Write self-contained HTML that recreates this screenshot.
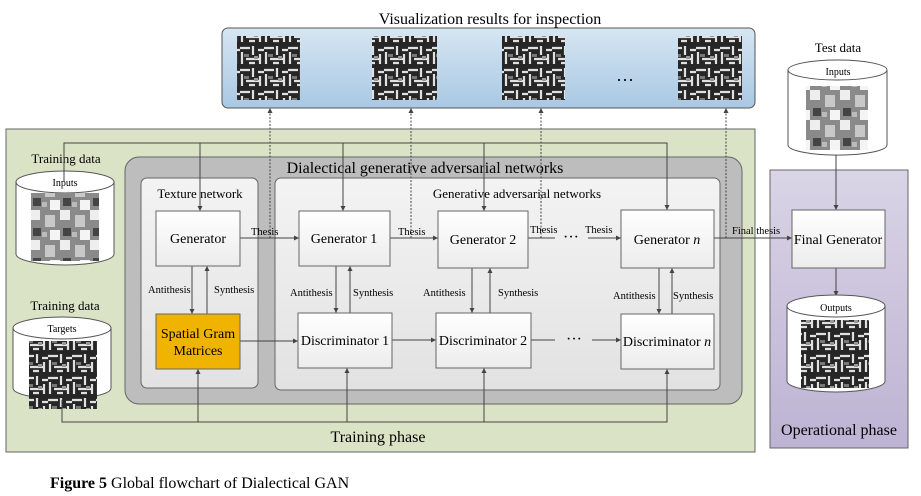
<!DOCTYPE html>
<html><head><meta charset="utf-8"><style>
html,body{margin:0;padding:0;background:#fff}
svg{display:block;font-family:"Liberation Serif",serif}
</style></head><body>
<svg width="921" height="496" viewBox="0 0 921 496" xmlns="http://www.w3.org/2000/svg">
<defs>
<marker id="a" markerWidth="6" markerHeight="6" refX="5" refY="3" orient="auto"><path d="M0,0.5 L5,3 L0,5.5z" fill="#444"/></marker>
<linearGradient id="bl" x1="0" y1="0" x2="0" y2="1"><stop offset="0" stop-color="#d6e6f3"/><stop offset="1" stop-color="#a9c8e3"/></linearGradient>
<linearGradient id="pu" x1="0" y1="0" x2="0" y2="1"><stop offset="0" stop-color="#d9d4e6"/><stop offset="1" stop-color="#bdb3d3"/></linearGradient>
<linearGradient id="bx" x1="0" y1="0" x2="0" y2="1"><stop offset="0" stop-color="#fff"/><stop offset="1" stop-color="#ececec"/></linearGradient>
<linearGradient id="in" x1="0" y1="0" x2="0" y2="1"><stop offset="0" stop-color="#f3f3f3"/><stop offset="1" stop-color="#e2e2e2"/></linearGradient>
<pattern id="tx" width="24" height="22" patternUnits="userSpaceOnUse"><rect width="24" height="22" fill="#262626"/><path d="M0,4h10M13,2v9M2,8v12M6,15h14M18,6h6M20,10v10M9,19h6" stroke="#e0e0e0" stroke-width="2.2"/><rect x="14" y="12" width="4" height="3" fill="#999"/><rect x="4" y="10" width="5" height="3" fill="#777"/></pattern>
<pattern id="px" width="30" height="30" patternUnits="userSpaceOnUse"><rect width="30" height="30" fill="#8a8a8a"/><rect width="10" height="10" fill="#eee"/><rect x="15" y="5" width="10" height="12" fill="#c8c8c8"/><rect x="20" y="20" width="10" height="10" fill="#f4f4f4"/><rect x="3" y="18" width="8" height="8" fill="#444"/><rect x="12" y="22" width="5" height="5" fill="#bbb"/></pattern>
</defs>
<text x="490" y="24" font-size="16" text-anchor="middle">Visualization results for inspection</text>
<rect x="222" y="28" width="533" height="80" rx="6" fill="url(#bl)" stroke="#555"/>
<rect x="237" y="36" width="63" height="64" fill="url(#tx)"/>
<rect x="372" y="36" width="65" height="64" fill="url(#tx)"/>
<rect x="502" y="36" width="63" height="64" fill="url(#tx)"/>
<rect x="678" y="36" width="64" height="64" fill="url(#tx)"/>
<text x="625" y="86" font-size="18" text-anchor="middle">···</text>
<text x="838" y="52" font-size="13" text-anchor="middle">Test data</text>
<path d="M788,70 v75 a49,10 0 0 0 99,0 v-75" fill="#fff" stroke="#555"/>
<ellipse cx="837.5" cy="70" rx="49.5" ry="10" fill="#fff" stroke="#555"/>
<text x="838" y="75" font-size="10" text-anchor="middle">Inputs</text>
<rect x="806" y="86" width="62" height="64" fill="url(#px)"/>
<rect x="6" y="129" width="749" height="323" fill="#dbe3c6" stroke="#666"/>
<rect x="770" y="170" width="138" height="278" fill="url(#pu)" stroke="#666"/>
<rect x="125" y="157" width="617" height="247" rx="14" fill="#bdbdbd" stroke="#666"/>
<rect x="141" y="178" width="117" height="210" rx="6" fill="url(#in)" stroke="#666"/>
<rect x="275" y="178" width="445" height="212" rx="6" fill="url(#in)" stroke="#666"/>
<text x="425" y="173" font-size="16" text-anchor="middle">Dialectical  generative adversarial networks</text>
<text x="200" y="198" font-size="13" text-anchor="middle">Texture network</text>
<text x="517" y="198" font-size="13" text-anchor="middle">Generative adversarial networks</text>
<text x="66" y="163" font-size="13" text-anchor="middle">Training data</text>
<path d="M16,182 v72 a49,11 0 0 0 98,0 v-72" fill="#fff" stroke="#555"/>
<ellipse cx="65" cy="182" rx="49" ry="11" fill="#fff" stroke="#555"/>
<text x="65" y="186" font-size="10" text-anchor="middle">Inputs</text>
<rect x="31" y="193" width="68" height="68" fill="url(#px)"/>
<text x="65" y="310" font-size="13" text-anchor="middle">Training data</text>
<path d="M13,328 v60 a49,11 0 0 0 98,0 v-60" fill="#fff" stroke="#555"/>
<ellipse cx="62" cy="328" rx="49" ry="11" fill="#fff" stroke="#555"/>
<text x="62" y="332" font-size="10" text-anchor="middle">Targets</text>
<rect x="29" y="341" width="68" height="68" fill="url(#tx)"/>
<g fill="none" stroke="#444" stroke-width="1">
<path d="M64,182 V143 H667 V210" marker-end="url(#a)"/>
<path d="M200,143 V211" marker-end="url(#a)"/>
<path d="M343,143 V211" marker-end="url(#a)"/>
<path d="M484,143 V211" marker-end="url(#a)"/>
<path d="M62,400 V422 H667 V369" marker-end="url(#a)"/>
<path d="M198,422 V369" marker-end="url(#a)"/>
<path d="M347,422 V368" marker-end="url(#a)"/>
<path d="M484,422 V368" marker-end="url(#a)"/>
<path d="M240,238 H299" marker-end="url(#a)"/>
<path d="M390,238 H438" marker-end="url(#a)"/>
<path d="M528,238 H555"/><path d="M588,238 H621" marker-end="url(#a)"/>
<path d="M714,238 H792" marker-end="url(#a)"/>
<path d="M240,341 H298" marker-end="url(#a)"/>
<path d="M392,340 H436" marker-end="url(#a)"/>
<path d="M531,340 H555"/><path d="M592,340 H621" marker-end="url(#a)"/>
<path d="M192,266 V314" marker-end="url(#a)"/><path d="M207,314 V266" marker-end="url(#a)"/>
<path d="M336,266 V313" marker-end="url(#a)"/><path d="M350,313 V266" marker-end="url(#a)"/>
<path d="M472,268 V313" marker-end="url(#a)"/><path d="M490,313 V268" marker-end="url(#a)"/>
<path d="M659,268 V314" marker-end="url(#a)"/><path d="M672,314 V268" marker-end="url(#a)"/>
<path d="M836,155 V210" marker-end="url(#a)"/>
<path d="M836,268 V296" marker-end="url(#a)"/>
<g stroke-dasharray="2,1.5"><path d="M270,238 V108" marker-end="url(#a)"/><path d="M411,238 V108" marker-end="url(#a)"/><path d="M541,238 V108" marker-end="url(#a)"/><path d="M726,238 V108" marker-end="url(#a)"/></g>
</g>
<g stroke="#666" fill="url(#bx)">
<rect x="156" y="211" width="84" height="55"/>
<rect x="299" y="211" width="91" height="55"/>
<rect x="438" y="211" width="90" height="57"/>
<rect x="621" y="210" width="93" height="58"/>
<rect x="298" y="313" width="94" height="55"/>
<rect x="436" y="313" width="95" height="55"/>
<rect x="621" y="314" width="93" height="55"/>
<rect x="792" y="210" width="93" height="58"/>
<rect x="156" y="314" width="84" height="55" fill="#f0b400"/>
</g>
<g font-size="14" text-anchor="middle">
<text x="198" y="243">Generator</text>
<text x="344" y="243">Generator 1</text>
<text x="483" y="244">Generator 2</text>
<text x="667" y="244">Generator <tspan font-style="italic">n</tspan></text>
<text x="345" y="345">Discriminator 1</text>
<text x="483" y="345">Discriminator 2</text>
<text x="667" y="346">Discriminator <tspan font-style="italic">n</tspan></text>
<text x="838" y="244">Final Generator</text>
<text x="198" y="338">Spatial Gram</text>
<text x="198" y="355">Matrices</text>
</g>
<g font-size="10.5">
<text x="251" y="235">Thesis</text><text x="398" y="235">Thesis</text><text x="530" y="233">Thesis</text><text x="585" y="233">Thesis</text><text x="732" y="234">Final thesis</text>
<text x="148" y="293">Antithesis</text><text x="214" y="293">Synthesis</text>
<text x="290" y="296">Antithesis</text><text x="353" y="296">Synthesis</text>
<text x="423" y="296">Antithesis</text><text x="498" y="296">Synthesis</text>
<text x="613" y="299">Antithesis</text><text x="673" y="299">Synthesis</text>
</g>
<text x="571" y="242" font-size="16" text-anchor="middle">···</text>
<text x="574" y="344" font-size="16" text-anchor="middle">···</text>
<path d="M787,306 v75 a49,11 0 0 0 98,0 v-75" fill="#fff" stroke="#555"/>
<ellipse cx="836" cy="306" rx="49" ry="11" fill="#fff" stroke="#555"/>
<text x="836" y="311" font-size="10" text-anchor="middle">Outputs</text>
<rect x="801" y="320" width="68" height="68" fill="url(#tx)"/>
<text x="378" y="442" font-size="16" text-anchor="middle">Training phase</text>
<text x="839" y="435" font-size="16" text-anchor="middle">Operational phase</text>
<text x="50" y="488" font-size="16"><tspan font-weight="bold">Figure 5</tspan> Global flowchart of Dialectical GAN</text>
</svg>
</body></html>
